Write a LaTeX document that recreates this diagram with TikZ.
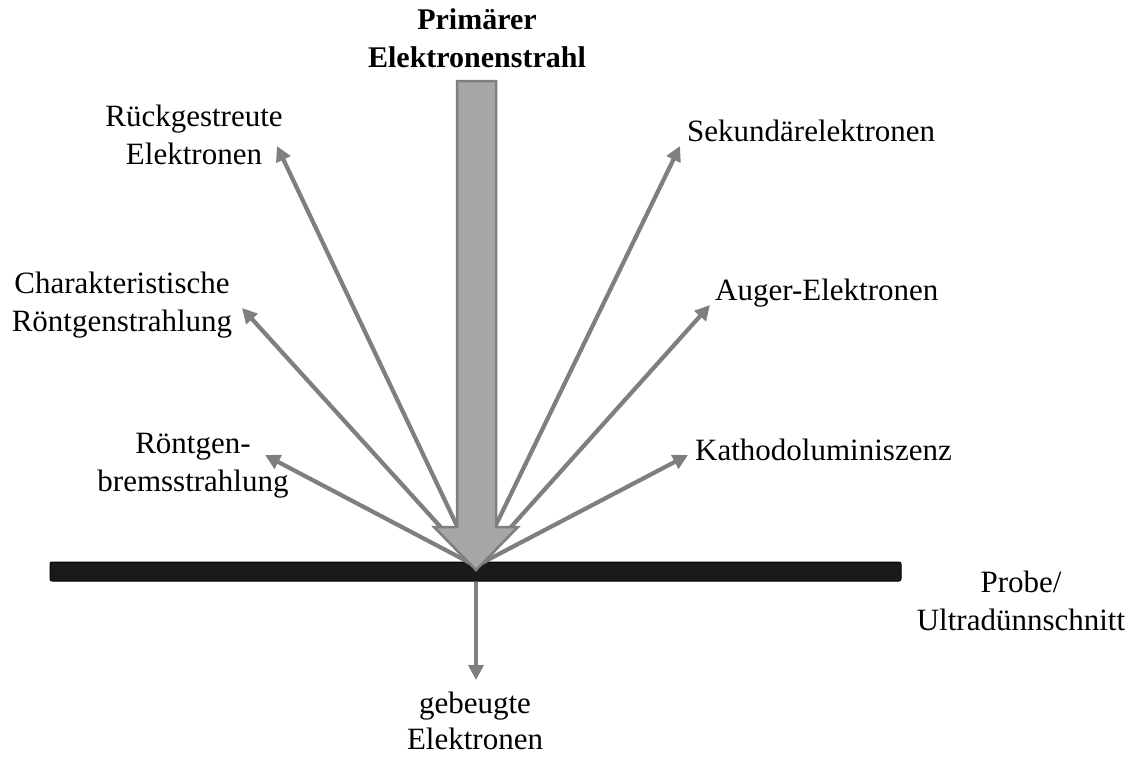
\documentclass[tikz,border=0pt]{standalone}
\usepackage{fontspec}
\setmainfont{Liberation Serif}
\usetikzlibrary{arrows.meta}
\definecolor{arrgray}{HTML}{7F7F7F}
\definecolor{beamfill}{HTML}{A6A6A6}
\definecolor{barblack}{HTML}{1A1A1A}
\tikzset{
  lbl/.style={font=\fontsize{31}{38}\selectfont, inner sep=0pt, align=center},
  ray/.style={draw=arrgray, line width=4.2pt, -{Triangle[length=15pt,width=15pt]}},
}
\begin{document}
\begin{tikzpicture}[x=1pt,y=-1pt]
\useasboundingbox (0,0) rectangle (1137,758);
% sample bar
\draw[fill=barblack, draw=black, rounded corners=2pt, line width=1pt] (50,562) rectangle (901,581);
% emission point
\coordinate (O) at (476,566);
\coordinate (Ob) at (476,582);
% tips
\coordinate (tR) at (277,146);
\coordinate (tC) at (242,308);
\coordinate (tB) at (265,455);
\coordinate (tS) at (680,146);
\coordinate (tA) at (710,305);
\coordinate (tK) at (688,455);
\coordinate (tG) at (476,680);
\draw[ray] (O) -- (tR);
\draw[ray] (O) -- (tC);
\draw[ray] (O) -- (tB);
\draw[ray] (O) -- (tS);
\draw[ray] (O) -- (tA);
\draw[ray] (O) -- (tK);
\draw[ray] (Ob) -- (tG);
% primary beam
\draw[fill=beamfill, draw=arrgray, line width=2.5pt, line join=miter]
  (457,81) -- (496,81) -- (496,527) -- (518,527) -- (476,570) -- (434,527) -- (457,527) -- cycle;
% labels
\node[lbl, font=\fontsize{30}{38}\selectfont\bfseries] (title) at (477,38) {Primärer\\Elektronenstrahl};
\node[lbl] (rueck) at (194,135) {Rückgestreute\\Elektronen};
\node[lbl] (char) at (122,305) {Charakteristische\\Röntgenstrahlung};
\node[lbl] (brems) at (193,466) {Röntgen-\\bremsstrahlung};
\node[lbl, anchor=west] (sek) at (687,131) {Sekundärelektronen};
\node[lbl, anchor=west] (auger) at (715,293) {Auger-Elektronen};
\node[lbl, anchor=west] (kath) at (695,450) {Kathodoluminiszenz};
\node[lbl] (probe) at (1021,601) {Probe/\\Ultradünnschnitt};
\node[lbl, font=\fontsize{31}{36}\selectfont] (geb) at (475,721) {gebeugte\\Elektronen};
\end{tikzpicture}
\end{document}
